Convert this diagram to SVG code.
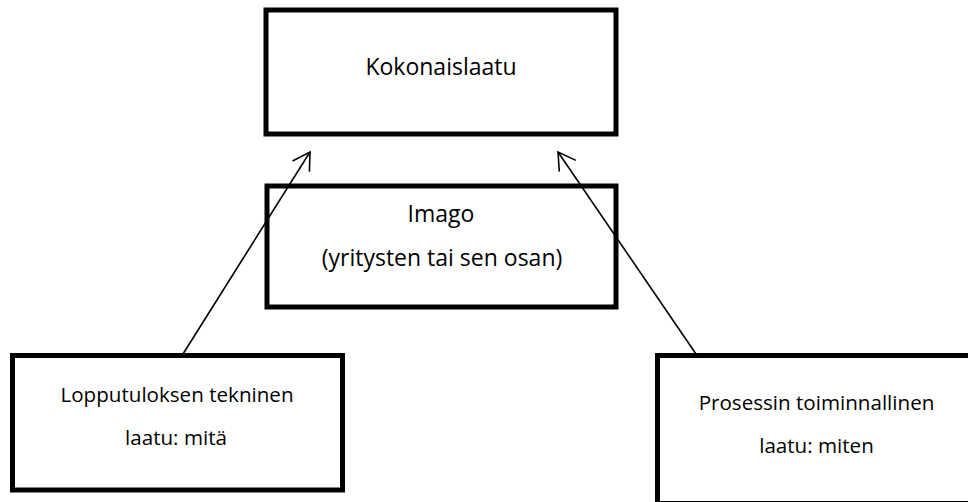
<svg xmlns="http://www.w3.org/2000/svg" width="968" height="502" viewBox="0 0 968 502">
  <defs>
    <style>
      .box { fill: #ffffff; stroke: #000000; stroke-width: 5; }
      .big { font-family: "Open Sans", "Noto Sans", sans-serif; font-size: 23px; fill: #000000; text-anchor: middle; }
      .small { font-family: "Open Sans", "Noto Sans", sans-serif; font-size: 20.6px; fill: #000000; text-anchor: middle; }
      .conn { fill: none; stroke: #000000; stroke-width: 1.6; }
    </style>
    <marker id="open-arrow" markerUnits="userSpaceOnUse" markerWidth="24" markerHeight="24" viewBox="-20 -12 22 24" refX="0" refY="0" orient="auto">
      <path d="M -17 -10 L 0 0 L -17 10" fill="none" stroke="#000000" stroke-width="1.6"/>
    </marker>
  </defs>

  <rect width="968" height="502" fill="#ffffff"/>

  <g id="kokonaislaatu">
    <rect class="box" x="266" y="10" width="350" height="124"/>
    <text class="big" x="441" y="75">Kokonaislaatu</text>
  </g>

  <g id="imago">
    <rect class="box" x="267" y="186" width="349" height="121"/>
    <text class="big" x="441" y="222">Imago</text>
    <text class="big" x="442" y="266">(yritysten tai sen osan)</text>
  </g>

  <g id="lopputulos">
    <rect class="box" x="12.5" y="355.5" width="330" height="134.5"/>
    <text class="small" x="177" y="402">Lopputuloksen tekninen</text>
    <text class="small" x="176" y="445">laatu: mitä</text>
  </g>

  <g id="prosessi">
    <rect class="box" x="657.5" y="355.5" width="320" height="148"/>
    <text class="small" x="816.5" y="410">Prosessin toiminnallinen</text>
    <text class="small" x="816.5" y="453">laatu: miten</text>
  </g>

  <g id="connectors">
    <line class="conn" x1="183" y1="354" x2="310" y2="152" marker-end="url(#open-arrow)"/>
    <line class="conn" x1="696" y1="354" x2="558" y2="152" marker-end="url(#open-arrow)"/>
  </g>
</svg>
